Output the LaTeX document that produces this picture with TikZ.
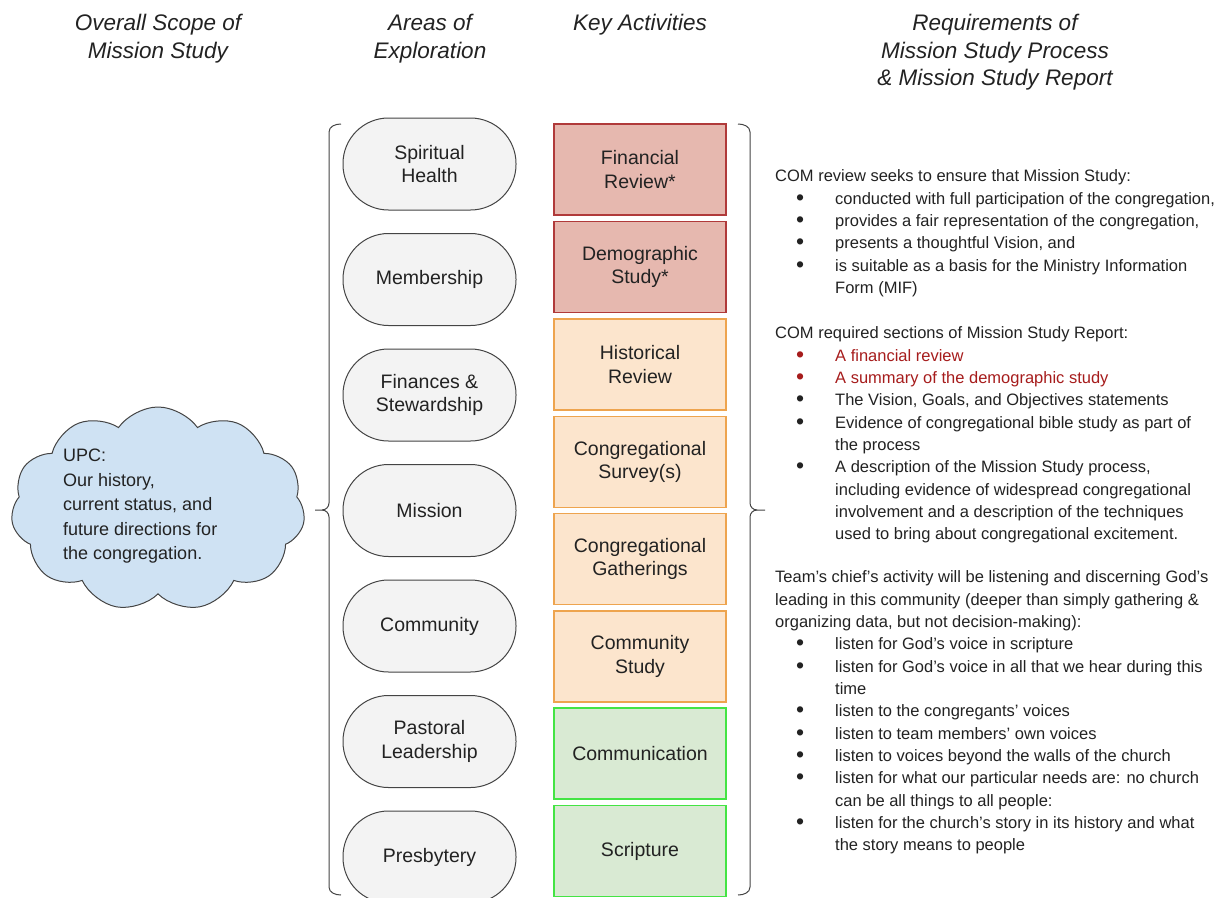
\documentclass[tikz,border=0pt]{standalone}
\usepackage{fontspec}
\setmainfont{Liberation Sans}
\usetikzlibrary{shapes.symbols}
\definecolor{redfill}{HTML}{E6B8AF}
\definecolor{reddraw}{HTML}{B03A3A}
\definecolor{orfill}{HTML}{FCE5CD}
\definecolor{ordraw}{HTML}{EEA44E}
\definecolor{grfill}{HTML}{D9EAD3}
\definecolor{grdraw}{HTML}{44E444}
\definecolor{stfill}{HTML}{F3F3F3}
\definecolor{stdraw}{HTML}{444444}
\definecolor{cloudfill}{HTML}{CFE2F3}
\definecolor{redtext}{HTML}{A61C1C}
\definecolor{txt}{HTML}{222222}
\newcommand{\hdrfont}{\fontsize{22.5}{27.5}\selectfont\itshape}
\newcommand{\boxfont}{\fontsize{19.5}{23.5}\selectfont}
\newcommand{\rtfont}{\fontsize{16.5}{22.35}\selectfont}
\newcommand{\blt}{\hspace*{21pt}\makebox[39pt][l]{\raisebox{-1pt}{\fontsize{23}{22.35}\selectfont\textbullet}}}
\newcommand{\ind}{\hspace*{60pt}}
\tikzset{
  hdr/.style={align=center, font=\hdrfont, text=txt, inner sep=0pt},
  actbox/.style={minimum width=172pt, minimum height=91pt, line width=1.2pt, align=center, font=\boxfont, text=txt, inner sep=0pt},
  redbox/.style={actbox, fill=redfill, draw=reddraw},
  orbox/.style={actbox, fill=orfill, draw=ordraw},
  grbox/.style={actbox, fill=grfill, draw=grdraw},
  stad/.style={draw=stdraw, fill=stfill, line width=1pt, rounded corners=45.5pt, minimum width=173pt, minimum height=92pt, align=center, font=\boxfont, text=txt, inner sep=0pt},
  brk/.style={draw=stdraw, line width=1pt},
  rtext/.style={anchor=north west, align=left, font=\rtfont, text=txt, inner sep=0pt},
}
\begin{document}
\begin{tikzpicture}[x=1pt,y=-1pt]
\useasboundingbox (0,0) rectangle (1225,897);
% headers
\node[hdr] (h1) at (158,38.5) {Overall Scope of\\Mission Study};
\node[hdr] (h2) at (430,38.5) {Areas of\\Exploration};
\node[hdr] (h3) at (640,25) {Key Activities};
\node[hdr] (h4) at (995,52.5) {Requirements of\\Mission Study Process\\\& Mission Study Report};
% cloud
\node[cloud, cloud puffs=11, cloud puff arc=110, aspect=1.45, draw=stdraw, fill=cloudfill, line width=1pt, minimum width=294pt, minimum height=204pt] (cloud) at (158,509) {};
\node[anchor=north west, align=left, font=\fontsize{18}{24.5}\selectfont, text=txt, inner sep=0pt] (cloudtxt) at (63,449) {UPC:\\Our history,\\current status, and\\future directions for\\the congregation.};
% areas
\node[stad] (a1) at (429.5,164) {Spiritual\\Health};
\node[stad] (a2) at (429.5,279.5) {Membership};
\node[stad] (a3) at (429.5,395) {Finances \&\\Stewardship};
\node[stad] (a4) at (429.5,510.5) {Mission};
\node[stad] (a5) at (429.5,626) {Community};
\node[stad] (a6) at (429.5,741.5) {Pastoral\\Leadership};
\node[stad] (a7) at (429.5,857) {Presbytery};
% activities
\node[redbox] (k1) at (640,169.5) {Financial\\Review*};
\node[redbox] (k2) at (640,267) {Demographic\\Study*};
\node[orbox] (k3) at (640,364.5) {Historical\\Review};
\node[orbox] (k4) at (640,462) {Congregational\\Survey(s)};
\node[orbox] (k5) at (640,559) {Congregational\\Gatherings};
\node[orbox] (k6) at (640,656.5) {Community\\Study};
\node[grbox] (k7) at (640,753.5) {Communication};
\node[grbox] (k8) at (640,851) {Scripture};
% brackets
\draw[brk] (341,124) to[out=180,in=90] (329,132) -- (329,503) to[out=-90,in=0] (322,510) -- (315,510);
\draw[brk] (322,510) to[out=0,in=90] (329,517) -- (329,887) to[out=-90,in=180] (341,895);
\draw[brk] (738,124) to[out=0,in=90] (750,132) -- (750,503) to[out=-90,in=180] (757,510) -- (765,510);
\draw[brk] (757,510) to[out=180,in=90] (750,517) -- (750,887) to[out=-90,in=0] (738,895);
% requirements text
\node[rtext] (r1) at (775,169.5) {COM review seeks to ensure that Mission Study:\\
\blt conducted with full participation of the congregation,\\
\blt provides a fair representation of the congregation,\\
\blt presents a thoughtful Vision, and\\
\blt is suitable as a basis for the Ministry Information\\
\ind Form (MIF)};
\node[rtext] (r2) at (775,326.5) {COM required sections of Mission Study Report:\\
{\color{redtext}\blt A financial review}\\
{\color{redtext}\blt A summary of the demographic study}\\
\blt The Vision, Goals, and Objectives statements\\
\blt Evidence of congregational bible study as part of\\
\ind the process\\
\blt A description of the Mission Study process,\\
\ind including evidence of widespread congregational\\
\ind involvement and a description of the techniques\\
\ind used to bring about congregational excitement.};
\node[rtext] (r3) at (775,570.5) {Team’s chief’s activity will be listening and discerning God’s\\
leading in this community (deeper than simply gathering \&\\
organizing data, but not decision-making):\\
\blt listen for God’s voice in scripture\\
\blt listen for God’s voice in all that we hear during this\\
\ind time\\
\blt listen to the congregants’ voices\\
\blt listen to team members’ own voices\\
\blt listen to voices beyond the walls of the church\\
\blt listen for what our particular needs are: no church\\
\ind can be all things to all people:\\
\blt listen for the church’s story in its history and what\\
\ind the story means to people};
\end{tikzpicture}
\end{document}
